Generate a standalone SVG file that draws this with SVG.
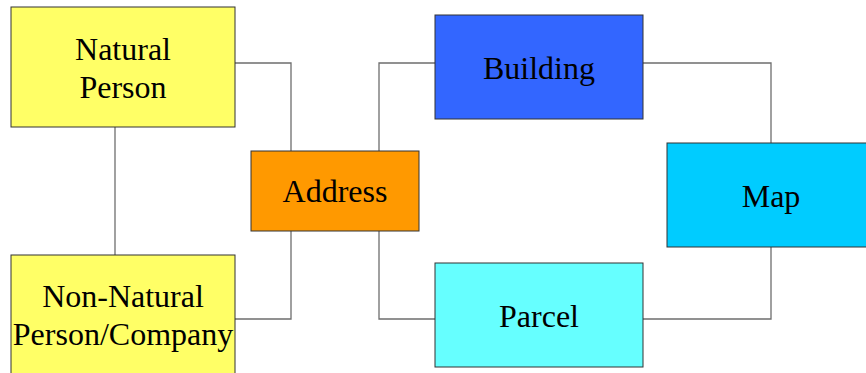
<svg xmlns="http://www.w3.org/2000/svg" width="866" height="373" viewBox="0 0 866 373">
<style>
.box{stroke:#333;stroke-width:1}
.lbl{font-family:"Liberation Serif","Times New Roman",serif;font-size:32px;fill:#000;text-anchor:middle}
.con{fill:none;stroke:#6e6e6e;stroke-width:1.3}
</style>
<rect width="866" height="373" fill="#fff"/>
<g id="connectors">
<polyline class="con" points="115,127 115,255"/>
<polyline class="con" points="235,63 291,63 291,151"/>
<polyline class="con" points="291,231 291,319 235,319"/>
<polyline class="con" points="379,151 379,63 435,63"/>
<polyline class="con" points="379,231 379,319 435,319"/>
<polyline class="con" points="643,63 771,63 771,143"/>
<polyline class="con" points="771,247 771,319 643,319"/>
</g>
<g id="natural-person">
<rect class="box" x="11" y="7" width="224" height="120" fill="#FFFF66"/>
<text class="lbl" x="123" y="60">Natural</text>
<text class="lbl" x="123" y="98">Person</text>
</g>
<g id="non-natural-person">
<rect class="box" x="11" y="255" width="224" height="125" fill="#FFFF66"/>
<text class="lbl" x="123" y="307">Non-Natural</text>
<text class="lbl" x="123" y="345">Person/Company</text>
</g>
<g id="address">
<rect class="box" x="251" y="151" width="168" height="80" fill="#FF9900"/>
<text class="lbl" x="335" y="202">Address</text>
</g>
<g id="building">
<rect class="box" x="435" y="15" width="208" height="104" fill="#3366FF"/>
<text class="lbl" x="539" y="79">Building</text>
</g>
<g id="parcel">
<rect class="box" x="435" y="263" width="208" height="104" fill="#66FFFF"/>
<text class="lbl" x="539" y="327">Parcel</text>
</g>
<g id="map">
<rect class="box" x="667" y="143" width="210" height="104" fill="#00CCFF"/>
<text class="lbl" x="771" y="207">Map</text>
</g>
</svg>
